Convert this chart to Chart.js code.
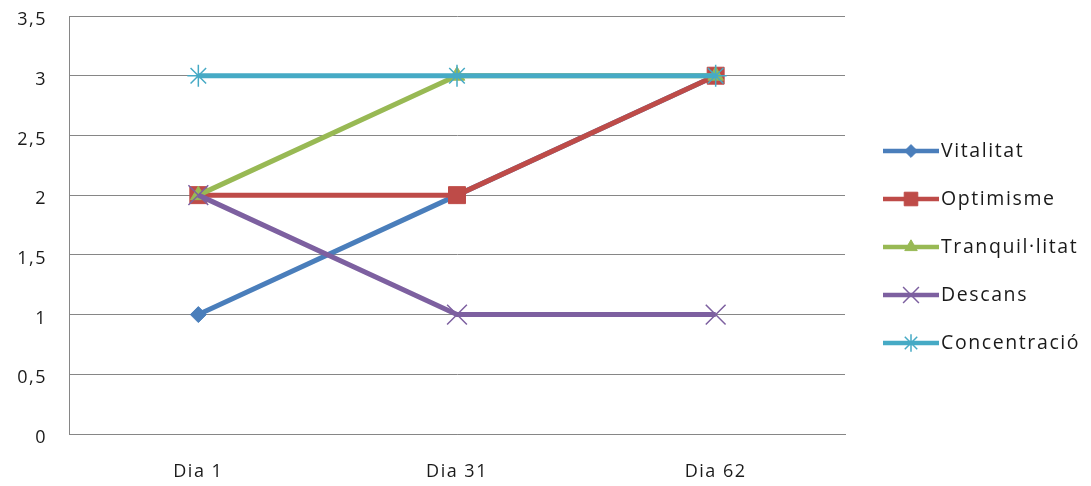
<!DOCTYPE html>
<html>
<head>
<meta charset="utf-8">
<script src="https://cdn.jsdelivr.net/npm/chart.js@4"></script>
<style>
  html, body { margin: 0; padding: 0; background: #fff; }
  #wrap { width: 1091px; height: 486px; }
</style>
</head>
<body>
<div id="wrap"><canvas id="chart"></canvas></div>
<script>
const categories = ['Dia 1', 'Dia 31', 'Dia 62'];
const seriesNames = ['Vitalitat', 'Optimisme', 'Tranquil·litat', 'Descans', 'Concentració'];
const vitalitat = [1, 2, 3];
const optimisme = [2, 2, 3];
const tranquillitat = [2, 3, 3];
const descans = [2, 1, 1];
const concentracio = [3, 3, 3];
const yTicks = [0, 0.5, 1, 1.5, 2, 2.5, 3, 3.5];

const seriesValues = [vitalitat, optimisme, tranquillitat, descans, concentracio];
const colors = ['#4A7EBB', '#BE4B48', '#98B954', '#7D60A0', '#46AAC5'];
const markers = [
  { style: 'rectRot', radius: 8, border: 1 },
  { style: 'rect', radius: 12, border: 1 },
  { style: 'triangle', radius: 9, border: 1 },
  { style: 'crossRot', radius: 14, border: 1.5 },
  { style: 'star', radius: 11, border: 1.5 }
];

const datasets = seriesNames.map((name, i) => ({
  label: name,
  data: seriesValues[i],
  borderColor: colors[i],
  backgroundColor: colors[i],
  borderWidth: 5,
  pointStyle: markers[i].style,
  pointRadius: markers[i].radius,
  pointHoverRadius: markers[i].radius,
  pointBackgroundColor: colors[i],
  pointBorderColor: colors[i],
  pointBorderWidth: markers[i].border,
  // later series sit on top, like the original
  order: seriesNames.length - 1 - i
}));

// legend on the right: line sample + marker + name
const sideLegend = {
  id: 'sideLegend',
  beforeDraw(chart) {
    chart.ctx.letterSpacing = '1.5px';
  },
  afterDraw(chart) {
    const ctx = chart.ctx;
    const sets = chart.data.datasets;
    const gap = 48;
    const y0 = 151;
    ctx.save();
    sets.forEach((ds, i) => {
      const y = y0 + i * gap;
      ctx.strokeStyle = ds.borderColor;
      ctx.lineWidth = 4.5;
      ctx.beginPath();
      ctx.moveTo(883, y);
      ctx.lineTo(939, y);
      ctx.stroke();

      ctx.fillStyle = ds.pointBackgroundColor;
      ctx.strokeStyle = ds.pointBorderColor;
      ctx.lineWidth = ds.pointBorderWidth;
      if (Chart.helpers && Chart.helpers.drawPoint) {
        Chart.helpers.drawPoint(ctx, {
          pointStyle: ds.pointStyle,
          radius: ds.pointRadius * 0.8,
          rotation: 0,
          borderWidth: ds.pointBorderWidth
        }, 911, y);
      }

      ctx.fillStyle = '#1a1a1a';
      ctx.font = '19.5px "Open Sans"';
      ctx.letterSpacing = '1.6px';
      ctx.textAlign = 'left';
      ctx.textBaseline = 'middle';
      ctx.fillText(ds.label, 941, y);
    });
    ctx.restore();
  }
};

new Chart(document.getElementById('chart'), {
  type: 'line',
  data: { labels: categories, datasets: datasets },
  options: {
    responsive: true,
    maintainAspectRatio: false,
    animation: false,
    layout: { autoPadding: false, padding: { top: 16, right: 246, bottom: 0, left: 0 } },
    plugins: {
      legend: { display: false },
      tooltip: { enabled: false }
    },
    scales: {
      x: {
        offset: true,
        grid: { display: false },
        border: { display: true, color: '#868686', width: 1 },
        ticks: {
          color: '#1a1a1a',
          font: { family: 'Open Sans', size: 18 },
          padding: 19,
          maxRotation: 0
        },
        afterFit: (scale) => {
          scale.height = 52;
          scale.paddingLeft = 0;
          scale.paddingRight = 0;
        }
      },
      y: {
        min: 0,
        max: 3.5,
        afterBuildTicks: (scale) => { scale.ticks = yTicks.map(v => ({ value: v })); },
        grid: { color: '#868686', lineWidth: 1, drawTicks: false },
        border: { display: true, color: '#868686', width: 1 },
        ticks: {
          color: '#1a1a1a',
          font: { family: 'Open Sans', size: 18 },
          padding: 22,
          labelOffset: 4,
          callback: (v) => String(v).replace('.', ',')
        },
        afterFit: (scale) => {
          scale.width = 69;
          scale.paddingTop = 0;
          scale.paddingBottom = 0;
        }
      }
    }
  },
  plugins: [sideLegend]
});
</script>
</body>
</html>
